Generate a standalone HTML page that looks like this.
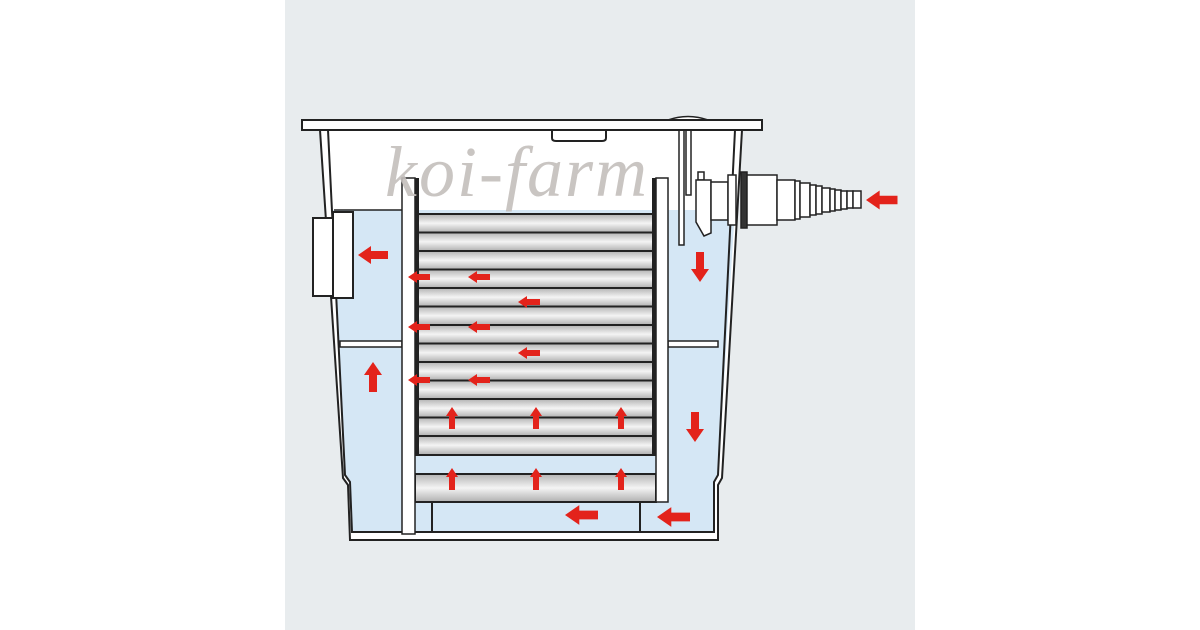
<!DOCTYPE html>
<html><head><style>
html,body{margin:0;padding:0;background:#fff;}
svg{display:block}
</style></head><body>
<svg width="1200" height="630" viewBox="0 0 1200 630" xmlns="http://www.w3.org/2000/svg">
<defs>
<linearGradient id="slat" x1="0" y1="0" x2="0" y2="1">
<stop offset="0" stop-color="#b3b3b3"/><stop offset="0.5" stop-color="#f4f4f4"/><stop offset="1" stop-color="#b0b0b0"/>
</linearGradient>
<pattern id="slats" patternUnits="userSpaceOnUse" x="0" y="214" width="10" height="18.5">
<rect x="0" y="0" width="10" height="18.5" fill="url(#slat)"/>
</pattern>
<path id="aL" d="M0,0 L13,-9 L13,-4 L30,-4 L30,4 L13,4 L13,9 Z" fill="#e3231b"/>
<path id="aS" d="M0,0 L9,-6 L9,-3 L22,-3 L22,3 L9,3 L9,6 Z" fill="#e3231b"/>
</defs>
<rect x="0" y="0" width="1200" height="630" fill="#fff"/>
<rect x="285" y="0" width="630" height="630" fill="#e8ecee"/>

<path d="M320,130 L742,130 L722,478 L718,485 L718,540 L350,540 L348,485 L343,478 Z" fill="#fff" stroke="#222" stroke-width="2"/>
<path d="M333,210 L735,210 L718,475 L714,482 L714,532 L352,532 L350,482 L345,475 Z" fill="#d5e7f5"/>
<path d="M328,130 L345,475 L350,482 L352,532 L714,532 L714,482 L718,475 L735,130" fill="none" stroke="#222" stroke-width="2"/>
<rect x="313" y="218" width="22" height="78" fill="#fff" stroke="#222" stroke-width="2"/>
<rect x="333" y="212" width="20" height="86" fill="#fff" stroke="#222" stroke-width="2"/>
<rect x="340" y="341" width="62" height="6" fill="#fff" stroke="#222" stroke-width="1.5"/>
<rect x="668" y="341" width="50" height="6" fill="#fff" stroke="#222" stroke-width="1.5"/>
<line x1="334" y1="210" x2="402" y2="210" stroke="#222" stroke-width="1.5"/>
<rect x="419" y="214" width="235" height="241" fill="url(#slats)"/>
<g stroke="#222" stroke-width="2">
<line x1="419" y1="214" x2="654" y2="214"/>
<line x1="419" y1="232.5" x2="654" y2="232.5"/><line x1="419" y1="251" x2="654" y2="251"/>
<line x1="419" y1="269.5" x2="654" y2="269.5"/><line x1="419" y1="288" x2="654" y2="288"/>
<line x1="419" y1="306.5" x2="654" y2="306.5"/><line x1="419" y1="325" x2="654" y2="325"/>
<line x1="419" y1="343.5" x2="654" y2="343.5"/><line x1="419" y1="362" x2="654" y2="362"/>
<line x1="419" y1="380.5" x2="654" y2="380.5"/><line x1="419" y1="399" x2="654" y2="399"/>
<line x1="419" y1="417.5" x2="654" y2="417.5"/><line x1="419" y1="436" x2="654" y2="436"/>
<line x1="415" y1="455" x2="656" y2="455"/>
</g>
<rect x="415" y="474" width="241" height="28" fill="url(#slat)" stroke="#222" stroke-width="2"/>
<line x1="432" y1="502" x2="432" y2="532" stroke="#222" stroke-width="2"/>
<line x1="640" y1="502" x2="640" y2="532" stroke="#222" stroke-width="2"/>
<rect x="402" y="178" width="13" height="356" fill="#fff" stroke="#222" stroke-width="1.5"/>
<rect x="415" y="178" width="4" height="277" fill="#222"/>
<rect x="652" y="178" width="4" height="277" fill="#222"/>
<rect x="656" y="178" width="12" height="324" fill="#fff" stroke="#222" stroke-width="1.5"/>
<rect x="679" y="130" width="5" height="115" fill="#fff" stroke="#222" stroke-width="1.5"/>
<rect x="686" y="130" width="5" height="65" fill="#fff" stroke="#222" stroke-width="1.5"/>
<g fill="#fff" stroke="#222" stroke-width="1.5">
<path d="M698,180 L698,172 L704,172 L704,180 Z"/>
<path d="M696,180 L711,180 L711,233 L704,236 L696,222 Z"/>
<rect x="711" y="182" width="17" height="38"/>
<rect x="728" y="175" width="8" height="50"/>
<rect x="741" y="172" width="6" height="56" fill="#333"/>
<rect x="747" y="175" width="30" height="50"/>
<rect x="777" y="180" width="18" height="40"/>
<rect x="795" y="181" width="5" height="38"/>
<rect x="800" y="183" width="10" height="34"/>
<rect x="810" y="185" width="6" height="30"/>
<rect x="816" y="186" width="6" height="28"/>
<rect x="822" y="188" width="8" height="24"/>
<rect x="830" y="189" width="5" height="22"/>
<rect x="835" y="190" width="6" height="20"/>
<rect x="841" y="191" width="6" height="18"/>
<rect x="847" y="191" width="6" height="17"/>
<rect x="853" y="191" width="8" height="17"/>
</g>
<path d="M668,120 Q688,113 708,120 Z" fill="#fff" stroke="#222" stroke-width="1.5"/>
<rect x="302" y="120" width="460" height="10" fill="#fff" stroke="#222" stroke-width="2"/>
<path d="M552,131 L552,138 Q552,141 556,141 L602,141 Q606,141 606,138 L606,131" fill="#fff" stroke="#222" stroke-width="2"/>
<text x="385" y="196" font-family="Liberation Serif, serif" font-style="italic" font-size="72" fill="#c4bfbc" opacity="0.9" letter-spacing="2">koi-farm</text>
<use href="#aL" transform="translate(358,255)"/>
<use href="#aS" transform="translate(408,277)"/>
<use href="#aS" transform="translate(468,277)"/>
<use href="#aS" transform="translate(518,302)"/>
<use href="#aS" transform="translate(408,327)"/>
<use href="#aS" transform="translate(468,327)"/>
<use href="#aS" transform="translate(518,353)"/>
<use href="#aS" transform="translate(408,380)"/>
<use href="#aS" transform="translate(468,380)"/>
<use href="#aL" transform="translate(866,200) scale(1.05)"/>
<use href="#aL" transform="translate(565,515) scale(1.1)"/>
<use href="#aL" transform="translate(657,517) scale(1.1)"/>
<use href="#aL" transform="translate(373,362) rotate(90)"/>
<use href="#aL" transform="translate(700,282) rotate(-90)"/>
<use href="#aL" transform="translate(695,442) rotate(-90)"/>
<use href="#aS" transform="translate(452,407) rotate(90)"/>
<use href="#aS" transform="translate(536,407) rotate(90)"/>
<use href="#aS" transform="translate(621,407) rotate(90)"/>
<use href="#aS" transform="translate(452,468) rotate(90)"/>
<use href="#aS" transform="translate(536,468) rotate(90)"/>
<use href="#aS" transform="translate(621,468) rotate(90)"/>
</svg>
</body></html>
